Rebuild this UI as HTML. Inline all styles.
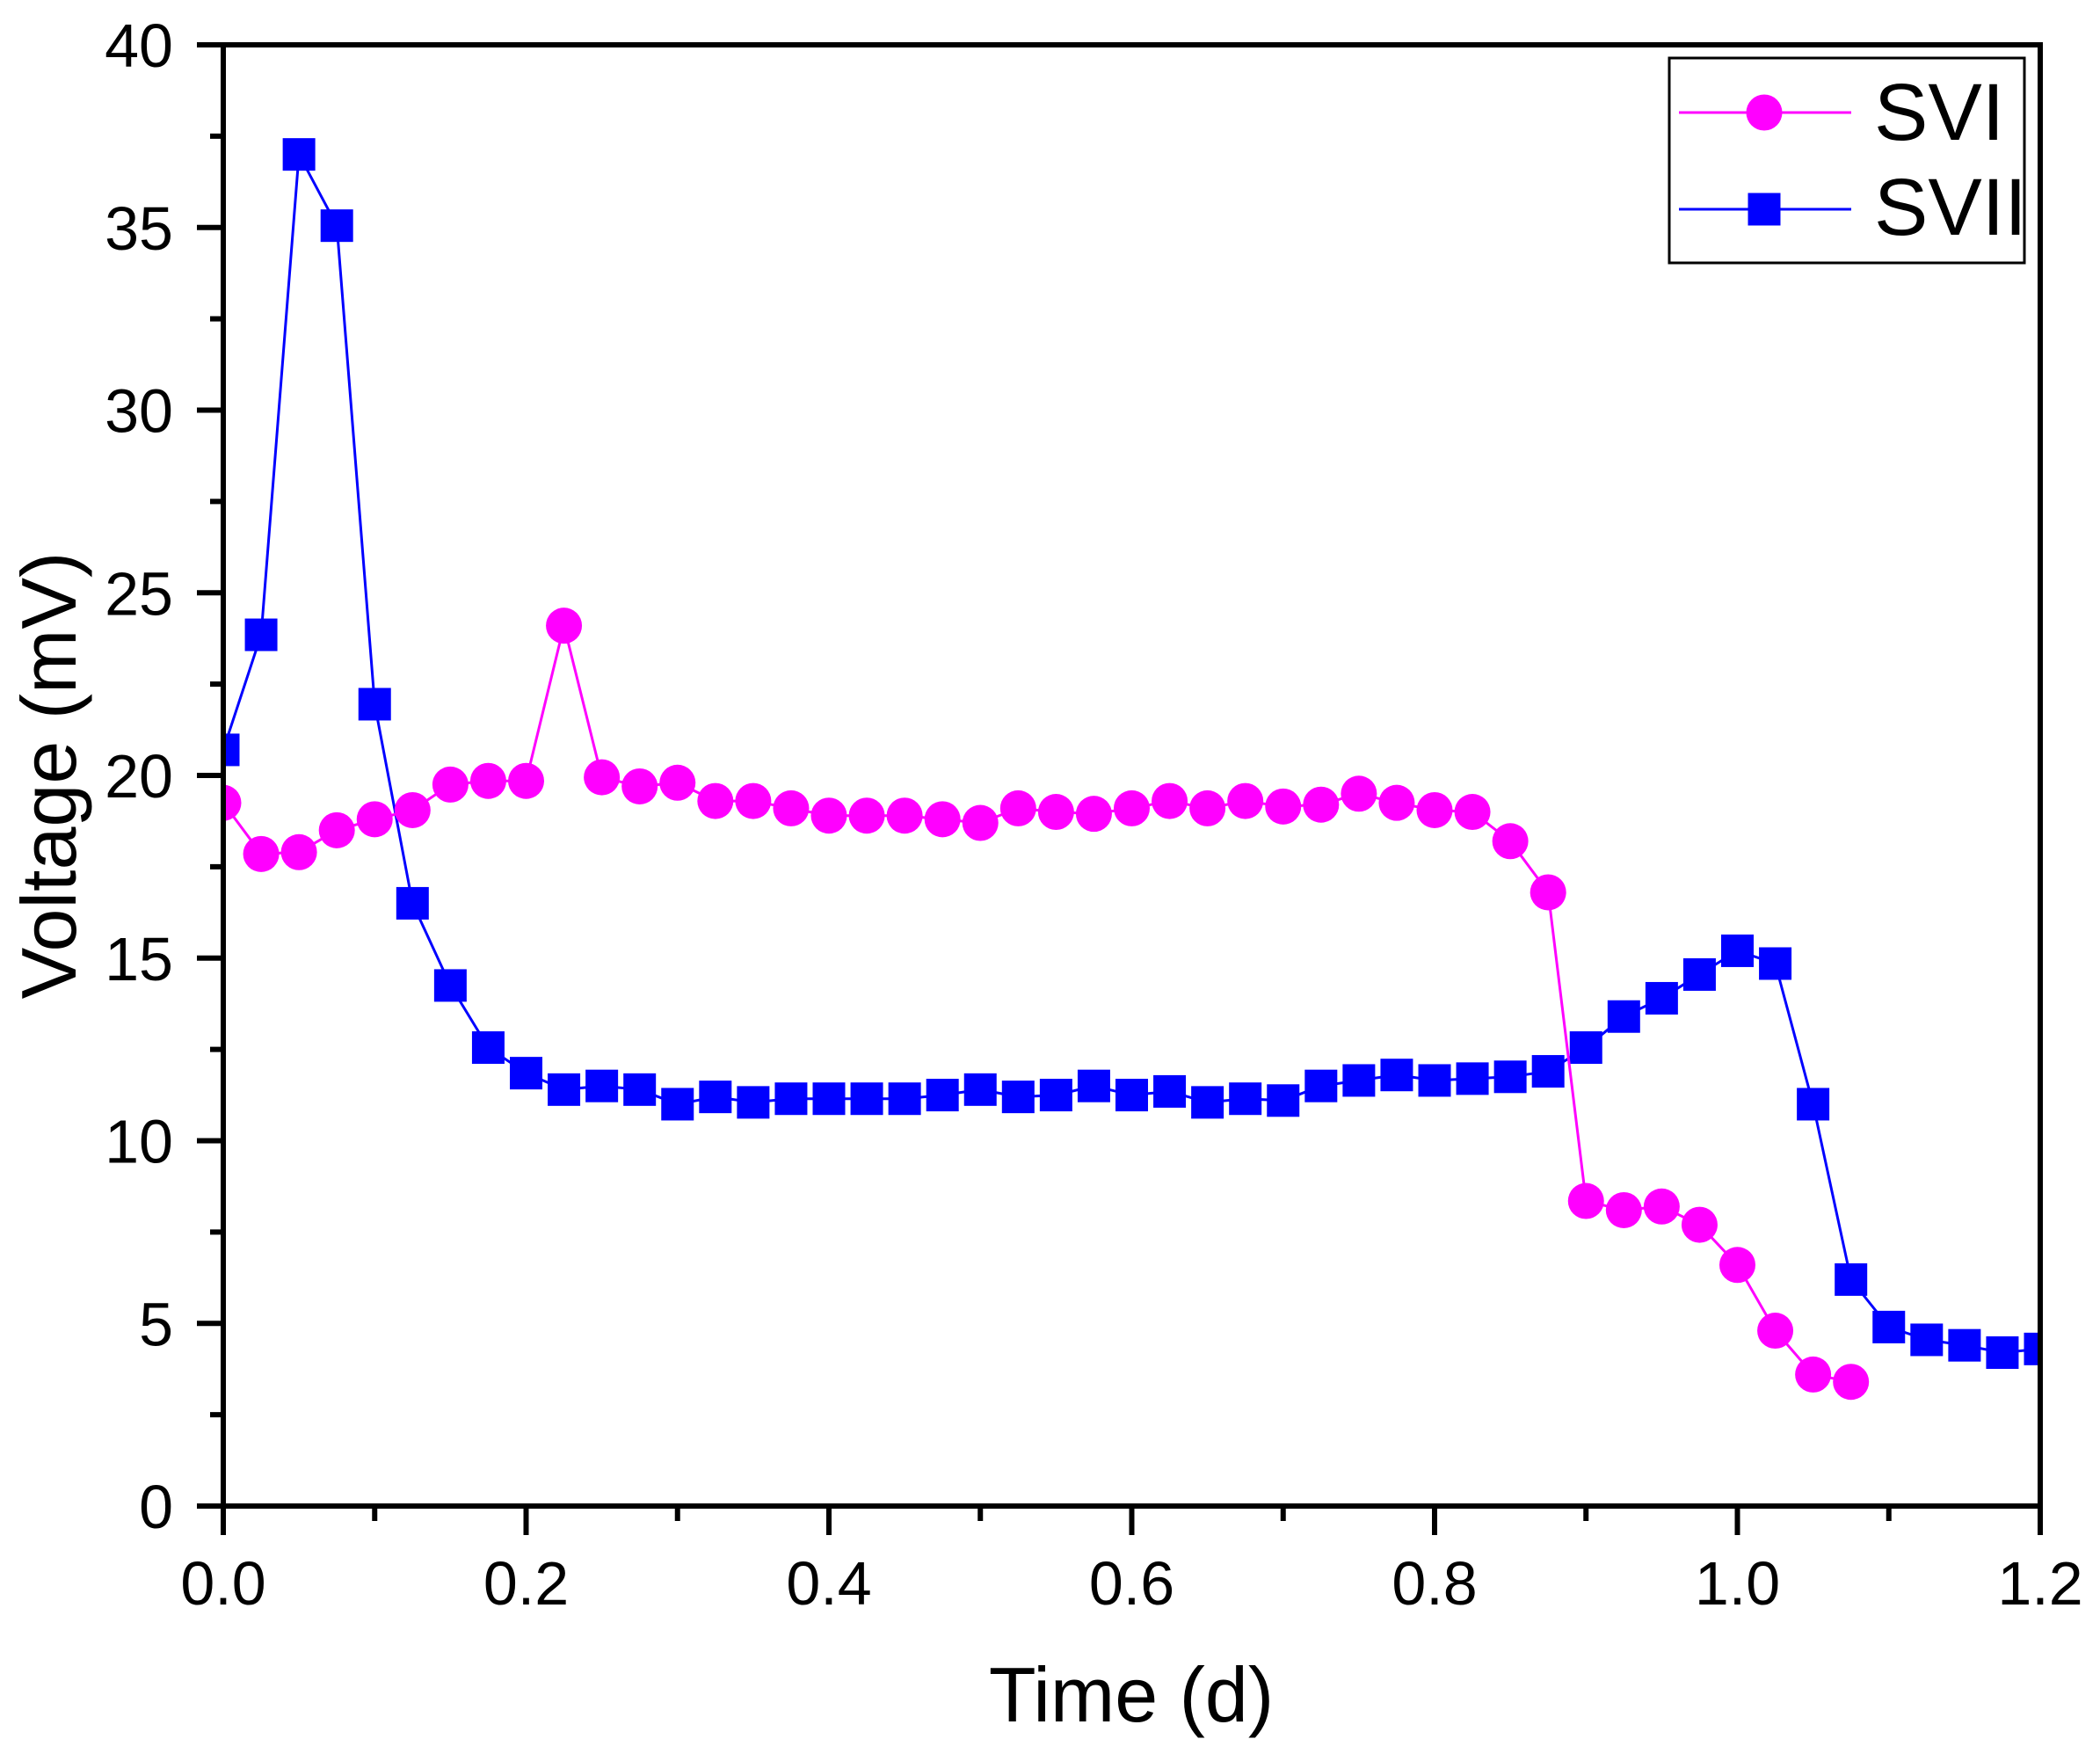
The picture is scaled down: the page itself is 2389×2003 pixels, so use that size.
<!DOCTYPE html>
<html><head><meta charset="utf-8"><style>html,body{margin:0;padding:0;background:#fff}svg{display:block}</style></head>
<body>
<svg id="chart" width="2389" height="2003" viewBox="0 0 2389 2003" xmlns="http://www.w3.org/2000/svg" font-family="Liberation Sans, Arial, sans-serif">
<defs><clipPath id="plotclip"><rect x="254" y="51" width="2067" height="1662"/></clipPath></defs>
<g id="grid-layer"></g>
<g id="series-layer" clip-path="url(#plotclip)"></g>
<rect x="254" y="51" width="2067" height="1662" fill="none" stroke="#000" stroke-width="6"/>
<g id="tick-layer"></g>
<text x="1287" y="1958" font-size="88" text-anchor="middle">Time (d)</text>
<text transform="translate(86,882) rotate(-90)" font-size="88" text-anchor="middle">Voltage (mV)</text>
<g>
<rect x="1899" y="66" width="404" height="233" fill="#fff" stroke="#000" stroke-width="3"/>
<g>
<line x1="1910" y1="128" x2="2106" y2="128" stroke="#ff00ff" stroke-width="3"/>
<circle cx="2007" cy="128" r="20.5" fill="#ff00ff"/>
<text x="2132" y="159" font-size="92">SVI</text></g>
<g>
<line x1="1910" y1="238" x2="2106" y2="238" stroke="#0000ff" stroke-width="3"/>
<rect x="1988.5" y="219.5" width="37" height="37" fill="#0000ff"/>
<text x="2132" y="267" font-size="92">SVII</text></g>
</g>
</svg>
<script>
const sviTimes = [0,0.025,0.05,0.075,0.1,0.125,0.15,0.175,0.2,0.225,0.25,0.275,0.3,0.325,0.35,0.375,0.4,0.425,0.45,0.475,0.5,0.525,0.55,0.575,0.6,0.625,0.65,0.675,0.7,0.725,0.75,0.775,0.8,0.825,0.85,0.875,0.9,0.925,0.95,0.975,1.0,1.025,1.05,1.075];
const sviValues = [19.25,17.85,17.9,18.5,18.8,19.05,19.75,19.85,19.85,24.1,19.95,19.7,19.8,19.3,19.3,19.1,18.9,18.9,18.9,18.8,18.7,19.1,19.0,18.95,19.1,19.3,19.1,19.3,19.15,19.2,19.5,19.25,19.05,19.0,18.2,16.8,8.35,8.1,8.2,7.7,6.6,4.8,3.6,3.4];
const sviiTimes = [0,0.025,0.05,0.075,0.1,0.125,0.15,0.175,0.2,0.225,0.25,0.275,0.3,0.325,0.35,0.375,0.4,0.425,0.45,0.475,0.5,0.525,0.55,0.575,0.6,0.625,0.65,0.675,0.7,0.725,0.75,0.775,0.8,0.825,0.85,0.875,0.9,0.925,0.95,0.975,1.0,1.025,1.05,1.075,1.1,1.125,1.15,1.175,1.2];
const sviiValues = [20.7,23.85,37.0,35.05,21.95,16.5,14.25,12.55,11.85,11.4,11.5,11.4,11.0,11.2,11.05,11.15,11.15,11.15,11.15,11.25,11.4,11.2,11.25,11.5,11.25,11.35,11.05,11.15,11.1,11.5,11.65,11.8,11.65,11.7,11.75,11.9,12.55,13.4,13.9,14.55,15.2,14.85,11.0,6.2,4.9,4.55,4.4,4.2,4.3];
const xTickLabels = ["0.0","0.2","0.4","0.6","0.8","1.0","1.2"];
const yTickLabels = ["0","5","10","15","20","25","30","35","40"];

const NS = "http://www.w3.org/2000/svg";
const X0 = 254, X1 = 2321, Y0 = 1713, Y1 = 51;
const xMax = 1.2, yMax = 40;
function xs(v){ return X0 + (X1 - X0) * v / xMax; }
function ys(v){ return Y0 - (Y0 - Y1) * v / yMax; }
function mk(tag, attrs){ const e = document.createElementNS(NS, tag); for (const k in attrs) e.setAttribute(k, attrs[k]); return e; }

const ticks = document.getElementById('tick-layer');
xTickLabels.forEach(function(lab){
  const v = parseFloat(lab), x = xs(v);
  const t = mk('line', {x1:x, y1:Y0, x2:x, y2:Y0+33, stroke:'#000', 'stroke-width':6});
  
  
  ticks.appendChild(t);
  const tx = mk('text', {x:x, y:1825, 'font-size':70, 'text-anchor':'middle'});
  
  
  tx.textContent = lab;
  ticks.appendChild(tx);
  if (v < xMax) {
    const xm = xs(v + 0.1);
    const m = mk('line', {x1:xm, y1:Y0, x2:xm, y2:Y0+17, stroke:'#000', 'stroke-width':6});
    
    
    ticks.appendChild(m);
  }
});
yTickLabels.forEach(function(lab){
  const v = parseFloat(lab), y = ys(v);
  const t = mk('line', {x1:X0, y1:y, x2:X0-30, y2:y, stroke:'#000', 'stroke-width':6});
  
  
  ticks.appendChild(t);
  const tx = mk('text', {x:197, y:y+25, 'font-size':70, 'text-anchor':'end'});
  
  
  tx.textContent = lab;
  ticks.appendChild(tx);
  if (v < yMax) {
    const ym = ys(v + 2.5);
    const m = mk('line', {x1:X0, y1:ym, x2:X0-15, y2:ym, stroke:'#000', 'stroke-width':6});
    
    
    ticks.appendChild(m);
  }
});

const series = document.getElementById('series-layer');
function drawSeries(times, vals, color, shape, name){
  const g = mk('g', {});
  
  
  const pts = times.map(function(t,i){ return xs(t).toFixed(1) + ',' + ys(vals[i]).toFixed(1); }).join(' ');
  const pl = mk('polyline', {points:pts, fill:'none', stroke:color, 'stroke-width':3});
  
  
  g.appendChild(pl);
  times.forEach(function(t,i){
    const cx = xs(t), cy = ys(vals[i]);
    let m;
    if (shape === 'circle') m = mk('circle', {cx:cx, cy:cy, r:20.5, fill:color});
    else m = mk('rect', {x:cx-18.5, y:cy-18.5, width:37, height:37, fill:color});
    
    
    g.appendChild(m);
  });
  series.appendChild(g);
}
drawSeries(sviiTimes, sviiValues, '#0000ff', 'square', 'svii');
drawSeries(sviTimes, sviValues, '#ff00ff', 'circle', 'svi');
</script>
</body></html>
